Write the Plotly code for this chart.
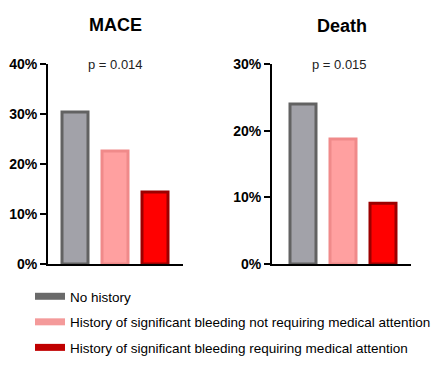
import plotly.graph_objects as go

groups = ["No history",
          "History of significant bleeding not requiring medical attention",
          "History of significant bleeding requiring medical attention"]
mace = [30.4, 22.6, 14.4]
death = [24.0, 18.75, 9.1]
fills = ["#a2a2a9", "#ffa0a0", "#ff0000"]
borders = ["#626262", "#f08a8a", "#9c0000"]
legend_colors = ["#6a6a6a", "#f49a9a", "#c00000"]
panels = ["MACE", "Death"]
pvals = ["p = 0.014", "p = 0.015"]
mace_ticks = [0, 10, 20, 30, 40]
death_ticks = [0, 10, 20, 30]

W, H = 440, 369
fig = go.Figure()
for i, g in enumerate(groups):
    fig.add_trace(go.Bar(x=[i], y=[mace[i]], name=g, xaxis="x", yaxis="y",
                         marker=dict(color=fills[i], line=dict(color=borders[i], width=3)),
                         width=0.65, showlegend=False))
    fig.add_trace(go.Bar(x=[i], y=[death[i]], name=g, xaxis="x2", yaxis="y2",
                         marker=dict(color=fills[i], line=dict(color=borders[i], width=3)),
                         width=0.65, showlegend=False))
for i, g in enumerate(groups):
    fig.add_trace(go.Scatter(x=[None], y=[None], mode="lines", name=g, legendgroup=g,
                             line=dict(color=legend_colors[i], width=7), showlegend=True))

ydom = [(H - 264) / H, (H - 64) / H]


def yaxis(ticks, rng):
    return dict(showline=True, linecolor="black", linewidth=2, ticks="outside",
                ticklen=6, tickwidth=2, tickcolor="black",
                tickvals=ticks, ticktext=["<b>%d%%</b>" % t for t in ticks],
                tickfont=dict(family="Liberation Sans", size=14, color="black"),
                showgrid=False, zeroline=False, range=rng, domain=ydom, automargin=False)


xaxis_common = dict(showline=True, linecolor="black", linewidth=2, showticklabels=False,
                    ticks="", showgrid=False, zeroline=False, automargin=False)


def note(text, xpx, ypx, size, color):
    return dict(text=text, x=xpx / W, y=(H - ypx) / H, xref="paper", yref="paper",
                xanchor="center", yanchor="middle", showarrow=False,
                font=dict(size=size, color=color))


fig.update_layout(
    template="none",
    width=W, height=H, margin=dict(l=0, r=0, t=0, b=0, pad=0, autoexpand=False),
    plot_bgcolor="white", paper_bgcolor="white", barmode="overlay",
    font=dict(family="Liberation Sans", color="black"),
    xaxis=dict(domain=[48 / W, 183 / W], range=[-0.675, 2.7], anchor="y", **xaxis_common),
    yaxis=dict(anchor="x", **yaxis(mace_ticks, [0, 40])),
    xaxis2=dict(domain=[272 / W, 411 / W], range=[-0.775, 2.7], anchor="y2", **xaxis_common),
    yaxis2=dict(anchor="x2", **yaxis(death_ticks, [0, 30])),
    legend=dict(x=30 / W, y=(H - 281) / H, xanchor="left", yanchor="top",
                font=dict(family="Liberation Sans", size=13.5, color="black"),
                tracegroupgap=5, bgcolor="rgba(0,0,0,0)", borderwidth=0),
    annotations=[
        note("<b>" + panels[0] + "</b>", 115, 25, 18, "black"),
        note("<b>" + panels[1] + "</b>", 342, 26, 18, "black"),
        note(pvals[0], 115, 64, 13, "#222222"),
        note(pvals[1], 339, 64, 13, "#222222"),
    ],
)
fig.write_html("out.html", post_script="document.body.style.margin='0';",
               config={"displayModeBar": False})
